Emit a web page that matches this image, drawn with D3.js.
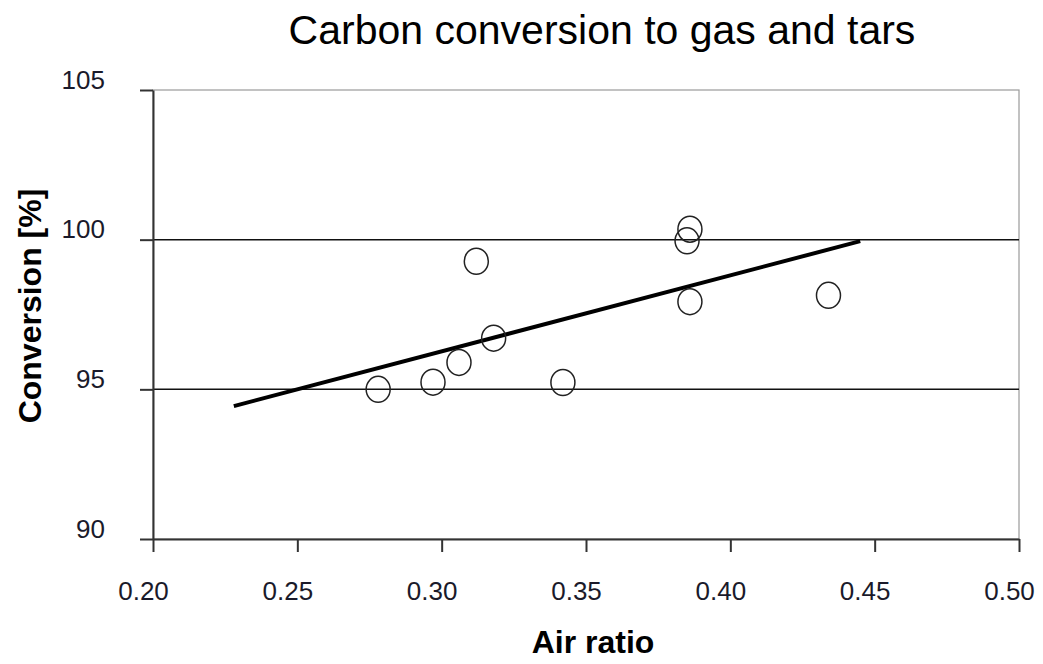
<!DOCTYPE html>
<html lang="en">
<head>
    <meta charset="UTF-8">
    <title>Carbon conversion to gas and tars</title>
    <style>
        body {
            margin: 0;
            padding: 0;
            background-color: #ffffff;
            font-family: Arial, 'Liberation Sans', sans-serif;
            overflow: hidden;
        }
        .tick text {
            font-size: 26px;
            fill: #1a1a2a;
        }
        .title {
            font-size: 41px;
            fill: #000;
        }
        .axis-title {
            font-size: 32px;
            font-weight: bold;
            fill: #000;
        }
    </style>
</head>
<body>
    <div id="chart"></div>

    <script src="https://d3js.org/d3.v7.min.js"></script>
    <script>
        // measured air ratio vs carbon conversion
        const airRatio   = [0.278, 0.297, 0.306, 0.312, 0.318, 0.342, 0.385, 0.386, 0.386, 0.434];
        const conversion = [95.0, 95.24, 95.9, 99.28, 96.71, 95.23, 99.96, 100.35, 97.93, 98.14];

        // linear trend end points
        const trendX = [0.228, 0.445];
        const trendY = [94.44, 99.95];

        const xTicks = [0.20, 0.25, 0.30, 0.35, 0.40, 0.45, 0.50];
        const yTicks = [90, 95, 100, 105];
        const gridValues = [95, 100];

        const width = 1043;
        const height = 664;
        const margin = { top: 90, right: 24, bottom: 125, left: 153 };

        const svg = d3.select('#chart')
            .append('svg')
            .attr('width', width)
            .attr('height', height);

        const x = d3.scaleLinear()
            .domain([0.20, 0.50])
            .range([margin.left, width - margin.right]);

        const y = d3.scaleLinear()
            .domain([90, 105])
            .range([height - margin.bottom, margin.top]);

        // plot frame (top + right light)
        svg.append('rect')
            .attr('x', x(0.20))
            .attr('y', y(105))
            .attr('width', x(0.50) - x(0.20))
            .attr('height', y(90) - y(105))
            .attr('fill', 'none')
            .attr('stroke', '#9a9a9a')
            .attr('stroke-width', 1.2);

        // gridlines
        svg.selectAll('.grid')
            .data(gridValues)
            .enter().append('line')
            .attr('class', 'grid')
            .attr('x1', x(0.20))
            .attr('x2', x(0.50))
            .attr('y1', d => y(d))
            .attr('y2', d => y(d))
            .attr('stroke', '#111')
            .attr('stroke-width', 1.5);

        // axes
        const xAxis = svg.append('g')
            .attr('transform', `translate(0,${y(90)})`)
            .call(d3.axisBottom(x)
                .tickValues(xTicks)
                .tickFormat(d3.format('.2f'))
                .tickSize(13)
                .tickSizeOuter(0));

        xAxis.selectAll('text')
            .attr('dy', null)
            .attr('y', 61)
            .attr('dx', -10);

        const yAxis = svg.append('g')
            .attr('transform', `translate(${x(0.20)},0)`)
            .call(d3.axisLeft(y)
                .tickValues(yTicks)
                .tickSize(13)
                .tickSizeOuter(0));

        yAxis.selectAll('text')
            .attr('dy', null)
            .attr('y', -2)
            .attr('x', -48);

        svg.selectAll('.domain, .tick line')
            .attr('stroke', '#333')
            .attr('stroke-width', 2);

        // trend line
        svg.append('line')
            .attr('x1', x(trendX[0]))
            .attr('y1', y(trendY[0]))
            .attr('x2', x(trendX[1]))
            .attr('y2', y(trendY[1]))
            .attr('stroke', '#000')
            .attr('stroke-width', 4);

        // data points
        svg.selectAll('.pt')
            .data(airRatio)
            .enter().append('ellipse')
            .attr('class', 'pt')
            .attr('cx', d => x(d))
            .attr('cy', (d, i) => y(conversion[i]))
            .attr('rx', 12)
            .attr('ry', 13)
            .attr('fill', 'none')
            .attr('stroke', '#222')
            .attr('stroke-width', 1.5);

        // titles
        svg.append('text')
            .attr('class', 'title')
            .attr('x', 602)
            .attr('y', 44)
            .attr('text-anchor', 'middle')
            .text('Carbon conversion to gas and tars');

        svg.append('text')
            .attr('class', 'axis-title')
            .attr('x', 593)
            .attr('y', 653)
            .attr('text-anchor', 'middle')
            .text('Air ratio');

        svg.append('text')
            .attr('class', 'axis-title')
            .attr('transform', 'translate(41,306) rotate(-90)')
            .attr('text-anchor', 'middle')
            .text('Conversion [%]');
    </script>
</body>
</html>
